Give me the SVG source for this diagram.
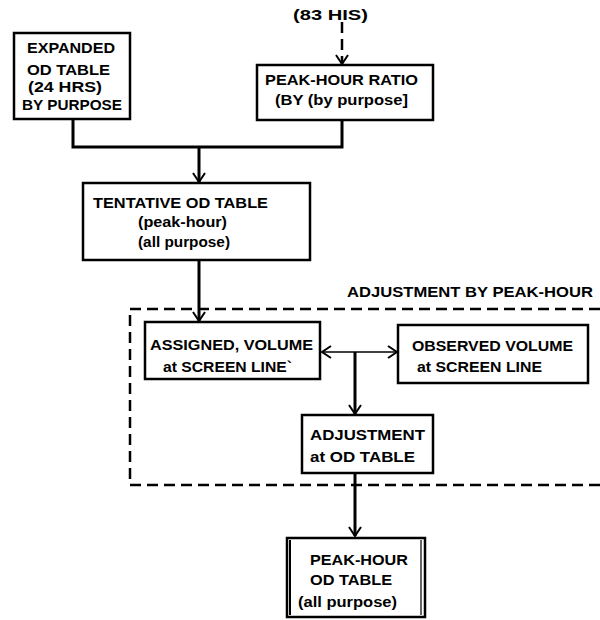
<svg xmlns="http://www.w3.org/2000/svg" width="600" height="620" viewBox="0 0 600 620">
  <defs>
    <style>
      .box { fill: #fff; stroke: #000; stroke-width: 2.5; }
      .t { font-family: "Liberation Sans", Arial, sans-serif; font-weight: bold; font-size: 15px; fill: #000; }
      .s { font-family: "Liberation Sans", Arial, sans-serif; font-weight: bold; font-size: 14px; fill: #000; }
      .ln { fill: none; stroke: #000; stroke-width: 3; }
      .thin { fill: none; stroke: #000; stroke-width: 1.6; }
      .dash { fill: none; stroke: #000; stroke-width: 2.5; stroke-dasharray: 11 6; }
    </style>
    <marker id="v" viewBox="0 0 12 14" refX="11" refY="7" markerWidth="12" markerHeight="14" markerUnits="userSpaceOnUse" orient="auto">
      <polyline points="2,1 11,7 2,13" fill="none" stroke="#000" stroke-width="2"/>
    </marker>
  </defs>

  <rect width="600" height="620" fill="#fff"/>

  <!-- dashed frame of the peak-hour adjustment stage -->
  <g id="adjustment-frame">
    <path class="dash" d="M600,309 L130,309 L130,485 L600,485"/>
    <text class="t" x="347" y="297" textLength="246" lengthAdjust="spacingAndGlyphs">ADJUSTMENT BY PEAK-HOUR</text>
  </g>

  <!-- connectors -->
  <g id="connectors">
    <path class="dash" d="M342,22 L342,64" marker-end="url(#v)"/>
    <path class="ln" d="M73,119 L73,147 L342,147 L342,120"/>
    <path class="ln" d="M199,147 L199,182" marker-end="url(#v)"/>
    <path class="ln" d="M199,260 L199,321" marker-end="url(#v)"/>
    <path class="thin" d="M355,352 L322,352" marker-end="url(#v)"/>
    <path class="thin" d="M355,352 L397,352" marker-end="url(#v)"/>
    <path class="ln" d="M355,352 L355,414" marker-end="url(#v)"/>
    <path class="ln" d="M355,473 L355,536" marker-end="url(#v)"/>
  </g>

  <g id="source-label">
    <text class="t" x="293" y="20" textLength="75" lengthAdjust="spacingAndGlyphs">(83 HIS)</text>
  </g>

  <g id="expanded-od">
    <rect class="box" x="14" y="33" width="116" height="86"/>
    <text class="t" x="27" y="53" textLength="88" lengthAdjust="spacingAndGlyphs">EXPANDED</text>
    <text class="t" x="27" y="75" textLength="83" lengthAdjust="spacingAndGlyphs">OD TABLE</text>
    <text class="t" x="28" y="92" textLength="74" lengthAdjust="spacingAndGlyphs">(24 HRS)</text>
    <text class="t" x="22" y="110" textLength="100" lengthAdjust="spacingAndGlyphs">BY PURPOSE</text>
  </g>

  <g id="peak-hour-ratio">
    <rect class="box" x="257" y="65" width="176" height="55"/>
    <text class="t" x="265" y="85" textLength="153" lengthAdjust="spacingAndGlyphs">PEAK-HOUR RATIO</text>
    <text class="s" x="275" y="105" textLength="133" lengthAdjust="spacingAndGlyphs">(BY   (by purpose]</text>
  </g>

  <g id="tentative-od">
    <rect class="box" x="83" y="183" width="227" height="77"/>
    <text class="t" x="93" y="208" textLength="175" lengthAdjust="spacingAndGlyphs">TENTATIVE OD TABLE</text>
    <text class="s" x="138" y="227" textLength="89" lengthAdjust="spacingAndGlyphs">(peak-hour)</text>
    <text class="s" x="138" y="247" textLength="92" lengthAdjust="spacingAndGlyphs">(all purpose)</text>
  </g>

  <g id="assigned-volume">
    <rect class="box" x="145" y="322" width="175" height="57"/>
    <text class="t" x="150" y="350" textLength="163" lengthAdjust="spacingAndGlyphs">ASSIGNED, VOLUME</text>
    <text class="t" x="163" y="372" textLength="129" lengthAdjust="spacingAndGlyphs">at SCREEN LINE`</text>
  </g>

  <g id="observed-volume">
    <rect class="box" x="398" y="325" width="190" height="58"/>
    <text class="t" x="412" y="351" textLength="161" lengthAdjust="spacingAndGlyphs">OBSERVED VOLUME</text>
    <text class="t" x="417" y="372" textLength="125" lengthAdjust="spacingAndGlyphs">at SCREEN LINE</text>
  </g>

  <g id="od-adjustment">
    <rect class="box" x="302" y="415" width="131" height="58"/>
    <text class="t" x="310" y="440" textLength="115" lengthAdjust="spacingAndGlyphs">ADJUSTMENT</text>
    <text class="t" x="310" y="462" textLength="105" lengthAdjust="spacingAndGlyphs">at OD TABLE</text>
  </g>

  <g id="peak-hour-od">
    <rect class="box" x="287" y="538" width="138" height="79" stroke-width="4"/>
    <line x1="290" y1="540" x2="290" y2="615" stroke="#000" stroke-width="2"/>
    <line x1="421" y1="540" x2="421" y2="615" stroke="#000" stroke-width="1.2"/>
    <text class="t" x="310" y="565" textLength="98" lengthAdjust="spacingAndGlyphs">PEAK-HOUR</text>
    <text class="t" x="310" y="585" textLength="82" lengthAdjust="spacingAndGlyphs">OD TABLE</text>
    <text class="s" x="298" y="607" textLength="99" lengthAdjust="spacingAndGlyphs">(all purpose)</text>
  </g>
</svg>
